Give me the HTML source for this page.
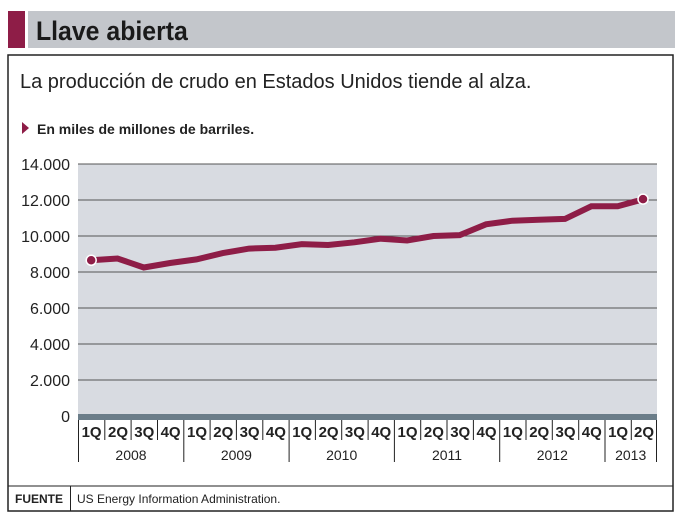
<!DOCTYPE html>
<html><head><meta charset="utf-8"><style>
body{margin:0;background:#fff;width:683px;height:518px;overflow:hidden;font-family:"Liberation Sans",sans-serif}
</style></head><body>
<svg width="683" height="518" viewBox="0 0 683 518" xmlns="http://www.w3.org/2000/svg" font-family="Liberation Sans, sans-serif">
<rect x="8" y="11" width="17" height="37" fill="#8e1d47"/>
<rect x="28" y="11" width="647" height="37" fill="#c3c6cb"/>
<text x="36" y="40" font-size="27" font-weight="bold" fill="#1a1a1a" transform="scale(0.92,1)" transform-origin="36 40">Llave abierta</text>
<rect x="8" y="55" width="665" height="456" fill="none" stroke="#222" stroke-width="1.5"/>
<text x="20" y="88" font-size="20" fill="#222">La producción de crudo en Estados Unidos tiende al alza.</text>
<polygon points="22,122 22,134 29,128" fill="#8e1d47"/>
<text x="37" y="134" font-size="14" font-weight="bold" fill="#222">En miles de millones de barriles.</text>
<rect x="78" y="164" width="579" height="252" fill="#d8dbe1"/>
<g stroke="#555" stroke-width="1">
<line x1="78" y1="164" x2="657" y2="164"/><line x1="78" y1="200" x2="657" y2="200"/><line x1="78" y1="236" x2="657" y2="236"/><line x1="78" y1="272" x2="657" y2="272"/><line x1="78" y1="308" x2="657" y2="308"/><line x1="78" y1="344" x2="657" y2="344"/><line x1="78" y1="380" x2="657" y2="380"/>
</g>
<rect x="78" y="414" width="579" height="6" fill="#6b7d89"/>
<g font-size="16" fill="#222" text-anchor="end">
<text x="70" y="170">14.000</text><text x="70" y="206">12.000</text><text x="70" y="242">10.000</text><text x="70" y="278">8.000</text><text x="70" y="314">6.000</text><text x="70" y="350">4.000</text><text x="70" y="386">2.000</text><text x="70" y="422">0</text>
</g>
<polyline fill="none" stroke="#8e1d47" stroke-width="6" stroke-linejoin="miter" points="91.2,260.3 117.5,258.5 143.8,267.5 170.1,263 196.5,259.4 222.8,253.1 249.1,248.6 275.4,247.7 301.8,244.1 328.1,245 354.4,242.3 380.7,238.7 407.1,240.5 433.4,236 459.7,235.1 486,224.3 512.4,220.7 538.7,219.8 565,218.9 591.3,206.3 617.7,206.3 644,199.1"/>
<circle cx="91.2" cy="260.3" r="5" fill="#8e1d47" stroke="#fff" stroke-width="1.5"/>
<circle cx="643" cy="199.1" r="5" fill="#8e1d47" stroke="#fff" stroke-width="1.5"/>
<g stroke="#222" stroke-width="1">
<line x1="78.5" y1="420" x2="78.5" y2="462"/><line x1="104.8" y1="420" x2="104.8" y2="440"/><line x1="131.1" y1="420" x2="131.1" y2="440"/><line x1="157.5" y1="420" x2="157.5" y2="440"/>
<line x1="183.8" y1="420" x2="183.8" y2="462"/><line x1="210.1" y1="420" x2="210.1" y2="440"/><line x1="236.4" y1="420" x2="236.4" y2="440"/><line x1="262.8" y1="420" x2="262.8" y2="440"/>
<line x1="289.1" y1="420" x2="289.1" y2="462"/><line x1="315.4" y1="420" x2="315.4" y2="440"/><line x1="341.7" y1="420" x2="341.7" y2="440"/><line x1="368.1" y1="420" x2="368.1" y2="440"/>
<line x1="394.4" y1="420" x2="394.4" y2="462"/><line x1="420.7" y1="420" x2="420.7" y2="440"/><line x1="447" y1="420" x2="447" y2="440"/><line x1="473.4" y1="420" x2="473.4" y2="440"/>
<line x1="499.7" y1="420" x2="499.7" y2="462"/><line x1="526" y1="420" x2="526" y2="440"/><line x1="552.3" y1="420" x2="552.3" y2="440"/><line x1="578.7" y1="420" x2="578.7" y2="440"/>
<line x1="605" y1="420" x2="605" y2="462"/><line x1="631.3" y1="420" x2="631.3" y2="440"/><line x1="656.5" y1="420" x2="656.5" y2="462"/>
</g>
<g font-size="15" font-weight="bold" fill="#222" text-anchor="middle">
<text x="91.6" y="437">1Q</text><text x="118" y="437">2Q</text><text x="144.3" y="437">3Q</text><text x="170.6" y="437">4Q</text>
<text x="197" y="437">1Q</text><text x="223.3" y="437">2Q</text><text x="249.6" y="437">3Q</text><text x="275.9" y="437">4Q</text>
<text x="302.2" y="437">1Q</text><text x="328.6" y="437">2Q</text><text x="354.9" y="437">3Q</text><text x="381.2" y="437">4Q</text>
<text x="407.5" y="437">1Q</text><text x="433.9" y="437">2Q</text><text x="460.2" y="437">3Q</text><text x="486.5" y="437">4Q</text>
<text x="512.9" y="437">1Q</text><text x="539.2" y="437">2Q</text><text x="565.5" y="437">3Q</text><text x="591.8" y="437">4Q</text>
<text x="618.1" y="437">1Q</text><text x="644" y="437">2Q</text>
</g>
<g font-size="14" fill="#222" text-anchor="middle">
<text x="131" y="460">2008</text><text x="236.4" y="460">2009</text><text x="341.7" y="460">2010</text><text x="447" y="460">2011</text><text x="552.3" y="460">2012</text><text x="630.7" y="460">2013</text>
</g>
<line x1="8" y1="486" x2="673" y2="486" stroke="#222" stroke-width="1"/>
<line x1="70.5" y1="486" x2="70.5" y2="511" stroke="#222" stroke-width="1"/>
<text x="15" y="503" font-size="12" font-weight="bold" fill="#222">FUENTE</text>
<text x="77" y="503" font-size="12" fill="#222">US Energy Information Administration.</text>
</svg>
</body></html>
